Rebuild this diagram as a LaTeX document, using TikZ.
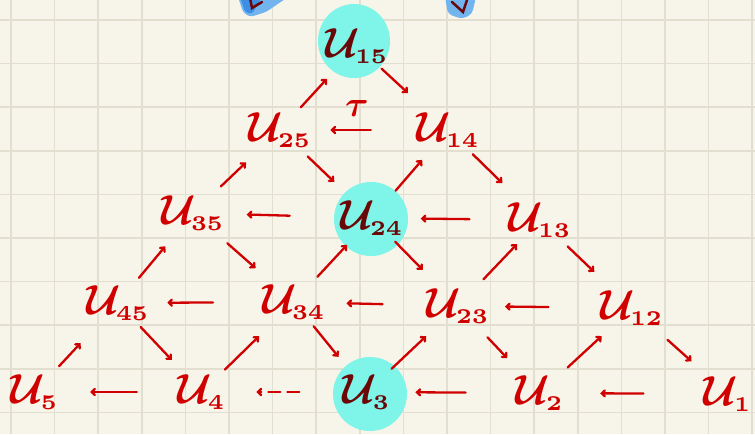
\documentclass[tikz,border=0pt]{standalone}
\usetikzlibrary{calc,arrows.meta}
\definecolor{paper}{HTML}{F7F4E9}
\definecolor{gridc}{HTML}{E2DED0}
\definecolor{ink}{HTML}{D00000}
\definecolor{darkink}{HTML}{6A0808}
\definecolor{hl}{HTML}{7EF5E8}
\definecolor{blueA}{HTML}{72B4EE}
\definecolor{blueB}{HTML}{3F8EE6}
\tikzset{
  gridline/.style={draw=gridc, line width=1.6pt},
  lab/.style={text=ink, inner sep=0pt},
  hlab/.style={lab, text=darkink},
  arr/.style={draw=ink, line width=2.3pt, line cap=round, -{Straight Barb[length=3pt,width=6pt,line cap=round]}},
  hlcirc/.style={fill=hl}
}
\newcommand\UU[1]{\scalebox{4.2}{\boldmath$\mathcal{U}_{\scriptscriptstyle #1}$}}
\newcommand\lk[5][]{\draw[arr,#1] ($(#2)!#3!(#5)$) -- ($(#2)!#4!(#5)$);}
\begin{document}
\begin{tikzpicture}[x=1pt,y=-1pt]
\useasboundingbox (0,0) rectangle (755,434);
\fill[paper] (0,0) rectangle (755,434);
\foreach \i in {0,...,17} \draw[gridline] ({11+43.6*\i},0) -- ({11+43.6*\i},434);
\foreach \j in {0,...,9} \draw[gridline] (0,{20+43.6*\j}) -- (755,{20+43.6*\j});
% blue marks at top
\fill[blueA, rounded corners=3pt] (238,-3) -- (288,-3) -- (266,12) -- (250,17) -- (243,12) -- cycle;
\fill[blueB, rounded corners=3pt] (240,-3) -- (262,-3) -- (252,14) -- (245,12) -- cycle;
\draw[darkink, line width=2.5pt, line cap=round] (250,-2) -- (252,8) -- (262,2);
\fill[blueA, rounded corners=4pt] (445,-3) -- (476,-3) -- (472,14) -- (462,19) -- (448,14) -- cycle;
\draw[darkink, line width=2.5pt, line cap=round] (452,2) -- (463,12) -- (467,0);
% highlight circles
\fill[hlcirc] (354,41) ellipse [x radius=36, y radius=37];
\fill[hlcirc] (371,219) circle [radius=37];
\fill[hlcirc] (370,394) circle [radius=37];
% nodes
\node[hlab] (u15) at (357,46) {\UU{15}};
\node[lab] (u25) at (280,130) {\UU{25}};
\node[lab] (u14) at (448,130) {\UU{14}};
\node[lab] (u35) at (193,213) {\UU{35}};
\node[hlab] (u24) at (372,218) {\UU{24}};
\node[lab] (u13) at (540,220) {\UU{13}};
\node[lab] (u45) at (118,303) {\UU{45}};
\node[lab] (u34) at (294,302) {\UU{34}};
\node[lab] (u23) at (458,306) {\UU{23}};
\node[lab] (u12) at (632,308) {\UU{12}};
\node[lab] (u5) at (35,392) {\UU{5}};
\node[lab] (u4) at (202,392) {\UU{4}};
\node[hlab] (u3) at (367,392) {\UU{3}};
\node[lab] (u2) at (540,393) {\UU{2}};
\node[lab] (u1) at (728,394) {\UU{1}};
\node[text=ink, inner sep=0pt] (tau) at (357,108) {\scalebox{3.6}{\boldmath$\tau$}};
% arrows
\lk{u25}{.27}{.61}{u15}
\lk{u15}{.27}{.56}{u14}
\lk{u14}{.46}{.70}{u25}
\lk{u35}{.32}{.61}{u25}
\lk{u25}{.30}{.59}{u24}
\lk{u24}{.31}{.66}{u14}
\lk{u14}{.27}{.59}{u13}
\lk{u24}{.46}{.70}{u35}
\lk{u13}{.42}{.71}{u24}
\lk{u45}{.28}{.63}{u35}
\lk{u35}{.34}{.62}{u34}
\lk{u34}{.30}{.68}{u24}
\lk{u24}{.27}{.59}{u23}
\lk{u23}{.31}{.72}{u13}
\lk{u13}{.30}{.59}{u12}
\lk{u34}{.46}{.72}{u45}
\lk{u23}{.46}{.68}{u34}
\lk{u12}{.48}{.73}{u23}
\lk{u5}{.29}{.55}{u45}
\lk{u45}{.27}{.64}{u4}
\lk{u4}{.25}{.62}{u34}
\lk{u34}{.27}{.61}{u3}
\lk{u3}{.27}{.65}{u23}
\lk{u23}{.36}{.60}{u2}
\lk{u2}{.30}{.67}{u12}
\lk{u12}{.37}{.62}{u1}
\lk{u4}{.39}{.67}{u5}
\lk[dash pattern=on 12pt off 7pt]{u3}{.41}{.67}{u4}
\lk{u2}{.43}{.72}{u3}
\lk{u1}{.45}{.68}{u2}
\end{tikzpicture}
\end{document}
